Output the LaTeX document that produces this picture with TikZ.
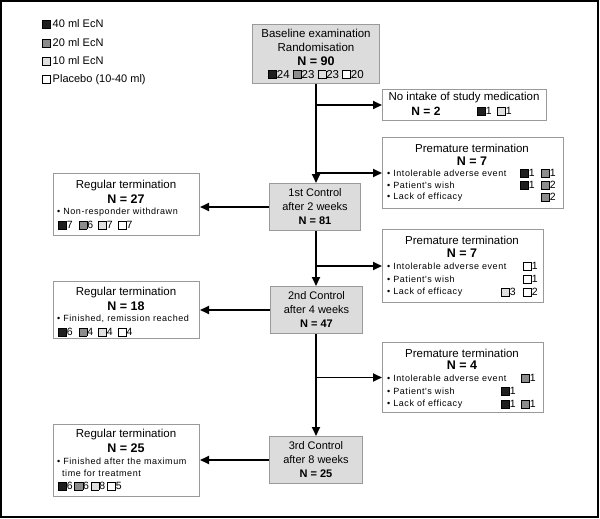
\documentclass[tikz,border=0pt]{standalone}
\usepackage{fontspec}
\setmainfont{Liberation Sans}
\newfontfamily\smallfont[LetterSpace=6]{Liberation Sans}
\usetikzlibrary{arrows.meta}
\definecolor{cA}{gray}{0.12}
\definecolor{cB}{gray}{0.55}
\definecolor{cC}{gray}{0.88}
\definecolor{cD}{gray}{1}
\definecolor{ctrlfill}{HTML}{DCDCDC}
\definecolor{boxline}{HTML}{9A9A9A}
\newcommand{\sq}[1]{{\setlength{\fboxsep}{0pt}\setlength{\fboxrule}{0.6pt}\fcolorbox{black}{#1}{\rule{0pt}{7.5pt}\rule{7.5pt}{0pt}}}}
\begin{document}
\begin{tikzpicture}[x=1pt,y=-1pt,
  box/.style={draw=boxline, line width=1pt, fill=white, inner sep=0pt, anchor=north west},
  ctrl/.style={box, fill=ctrlfill, align=center, font=\fontsize{11}{14}\selectfont},
  flow/.style={line width=1.8pt, -{Triangle[length=9pt,width=8pt]}},
  ttl/.style={font=\fontsize{11.5}{13}\selectfont},
  big/.style={font=\fontsize{12.5}{14}\selectfont\bfseries},
  item/.style={font=\smallfont\fontsize{9}{10}\selectfont, anchor=west, inner sep=0pt},
  num/.style={font=\fontsize{10.5}{11}\selectfont, anchor=west, inner sep=0pt},
  leg/.style={font=\fontsize{11}{12}\selectfont, anchor=west, inner sep=0pt},
]
\useasboundingbox (0,0) rectangle (600,519);
\draw[line width=1.2pt] (1,1) rectangle (598,517);

% legend
\node[leg] (l1) at (42,24) {\sq{cA}\,40 ml EcN};
\node[leg] (l2) at (42,43) {\sq{cB}\,20 ml EcN};
\node[leg] (l3) at (42,61) {\sq{cC}\,10 ml EcN};
\node[leg] (l4) at (42,80) {\sq{cD}\,Placebo (10-40 ml)};

% baseline
\node[ctrl, minimum width=127pt, minimum height=59pt, font=\fontsize{11.5}{14}\selectfont] (base) at (252,24)
  {Baseline examination\\Randomisation\\{\fontsize{12.5}{14}\selectfont\bfseries N = 90}\\[-1pt]\sq{cA}24 \sq{cB}23 \sq{cC}23 \sq{cD}20};

% controls
\node[ctrl, minimum width=91pt, minimum height=47pt] (c1) at (269,183)
  {1st Control\\after 2 weeks\\{\bfseries N = 81}};
\node[ctrl, minimum width=92pt, minimum height=47pt] (c2) at (270,286)
  {2nd Control\\after 4 weeks\\{\bfseries N = 47}};
\node[ctrl, minimum width=93pt, minimum height=47pt] (c3) at (269,436)
  {3rd Control\\after 8 weeks\\{\bfseries N = 25}};

% no intake
\node[box, minimum width=164pt, minimum height=31pt] (ni) at (382,89) {};
\node[ttl] (nit) at (464,98) {No intake of study medication};
\node[big, font=\fontsize{12}{13}\selectfont\bfseries] (nin) at (426,111) {N = 2};
\node[num] (nia) at (477,111) {\sq{cA}1};
\node[num] (nib) at (497,111) {\sq{cC}1};

% premature 1
\node[box, minimum width=181pt, minimum height=71pt] (p1) at (382,137) {};
\node[ttl] (p1t) at (472,148) {Premature termination};
\node[big] (p1n) at (472,161) {N = 7};
\node[item] (p1r1) at (387,173) {\textbullet\ Intolerable adverse event};
\node[item] (p1r2) at (387,185) {\textbullet\ Patient's wish};
\node[item] (p1r3) at (387,197) {\textbullet\ Lack of efficacy};
\node[num] (p1a1) at (520,173) {\sq{cA}1};
\node[num] (p1b1) at (541,173) {\sq{cB}1};
\node[num] (p1a2) at (520,185) {\sq{cA}1};
\node[num] (p1b2) at (541,185) {\sq{cB}2};
\node[num] (p1b3) at (541,197) {\sq{cB}2};

% premature 2
\node[box, minimum width=161pt, minimum height=73pt] (p2) at (382,229) {};
\node[ttl] (p2t) at (462,240) {Premature termination};
\node[big] (p2n) at (462,253) {N = 7};
\node[item] (p2r1) at (387,266) {\textbullet\ Intolerable adverse event};
\node[item] (p2r2) at (387,279) {\textbullet\ Patient's wish};
\node[item] (p2r3) at (387,292) {\textbullet\ Lack of efficacy};
\node[num] (p2b1) at (523,266) {\sq{cD}1};
\node[num] (p2b2) at (523,279) {\sq{cD}1};
\node[num] (p2a3) at (501,292) {\sq{cC}3};
\node[num] (p2b3) at (523,292) {\sq{cD}2};

% premature 3
\node[box, minimum width=161pt, minimum height=70pt] (p3) at (382,342) {};
\node[ttl] (p3t) at (462,353) {Premature termination};
\node[big] (p3n) at (462,365) {N = 4};
\node[item] (p3r1) at (387,378) {\textbullet\ Intolerable adverse event};
\node[item] (p3r2) at (387,391) {\textbullet\ Patient's wish};
\node[item] (p3r3) at (387,404) {\textbullet\ Lack of efficacy};
\node[num] (p3b1) at (521,378) {\sq{cB}1};
\node[num] (p3a2) at (501,391) {\sq{cA}1};
\node[num] (p3a3) at (501,404) {\sq{cA}1};
\node[num] (p3b3) at (521,404) {\sq{cB}1};

% regular 27
\node[box, minimum width=146pt, minimum height=62pt] (r1) at (53,173) {};
\node[ttl] (r1t) at (126,186) {Regular termination};
\node[big] (r1n) at (126,199) {N = 27};
\node[item] (r1r) at (57,212) {\textbullet\ Non-responder withdrawn};
\node[num] (r1s) at (58,225) {\sq{cA}7\hspace{6pt}\sq{cB}6\hspace{5pt}\sq{cC}7\hspace{5pt}\sq{cD}7};

% regular 18
\node[box, minimum width=146pt, minimum height=57pt] (r2) at (53,281) {};
\node[ttl] (r2t) at (126,293) {Regular termination};
\node[big] (r2n) at (126,306) {N = 18};
\node[item] (r2r) at (57,319) {\textbullet\ Finished, remission reached};
\node[num] (r2s) at (58,332) {\sq{cA}6\hspace{6pt}\sq{cB}4\hspace{5pt}\sq{cC}4\hspace{5pt}\sq{cD}4};

% regular 25
\node[box, minimum width=146pt, minimum height=72pt] (r3) at (53,424) {};
\node[ttl] (r3t) at (126,435) {Regular termination};
\node[big] (r3n) at (126,448) {N = 25};
\node[item] (r3r) at (57,461) {\textbullet\ Finished after the maximum};
\node[item] (r3q) at (62,473) {time for treatment};
\node[num] (r3s) at (58,486) {\sq{cA}6\,\sq{cB}6\,\sq{cC}8\,\sq{cD}5};

% main flow
\draw[flow] (base.south) -- (base.south |- c1.north);
\draw[flow] (base.south |- c1.south) -- (base.south |- c2.north);
\draw[flow] (base.south |- c2.south) -- (base.south |- c3.north);

% side branches
\draw[flow] (base.south |- ni.west) -- (ni.west);
\draw[flow] (base.south |- p1.west) -- (p1.west);
\draw[flow] (base.south |- p2.west) -- (p2.west);
\draw[flow] (base.south |- p3.west) -- (p3.west);
\draw[flow] (c1.west) -- (r1.east |- c1.west);
\draw[flow] (c2.west) -- (r2.east |- c2.west);
\draw[flow] (c3.west) -- (r3.east |- c3.west);
\end{tikzpicture}
\end{document}
